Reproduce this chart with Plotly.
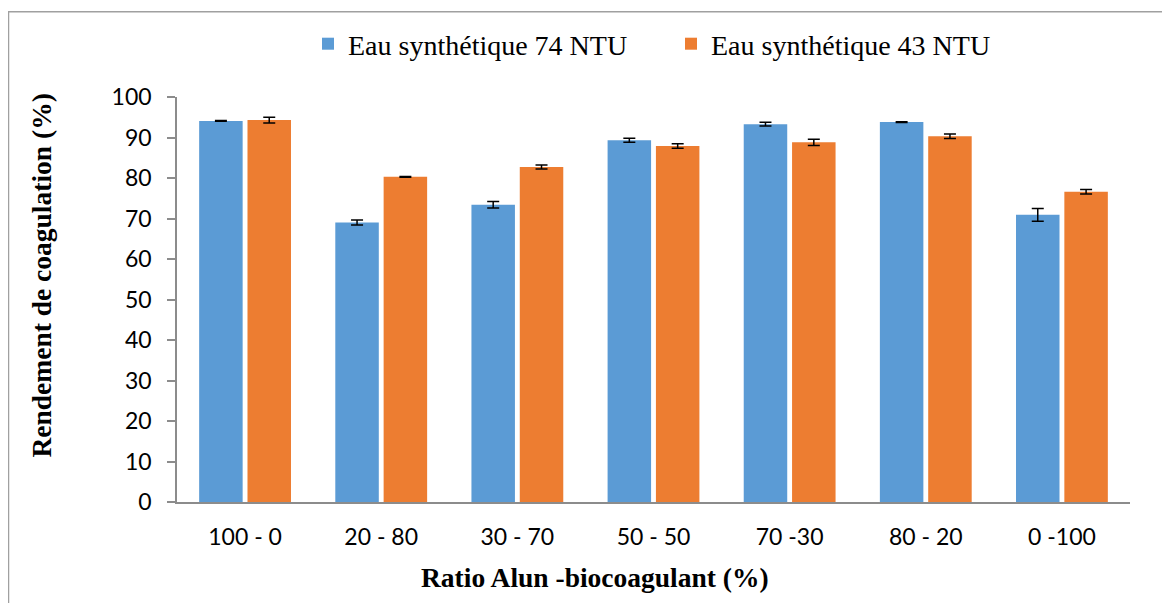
import plotly.graph_objects as go

categories = ["100 - 0", "20 - 80", "30 - 70", "50 - 50", "70 -30", "80 - 20", "0 -100"]
series_names = ["Eau synthétique 74 NTU", "Eau synthétique 43 NTU"]
values_74 = [94.1, 69.0, 73.4, 89.3, 93.3, 93.8, 70.9]
errors_74 = [0.1, 0.6, 0.8, 0.5, 0.45, 0.1, 1.55]
values_43 = [94.3, 80.3, 82.7, 87.9, 88.8, 90.3, 76.6]
errors_43 = [0.7, 0.1, 0.5, 0.55, 0.75, 0.55, 0.55]
y_ticks = [0, 10, 20, 30, 40, 50, 60, 70, 80, 90, 100]

# the page places the figure 8 px from the top-left corner of the window
OFF = 8
W, H = 1170 - OFF, 603 - OFF
# plot area wanted on screen: x 177..1130, y 96..502
L, R = 177 - OFF, 1170 - 1130
T, B = 96 - OFF, 603 - 502
pw, ph = W - L - R, H - T - B

def px_x(sx):
    return (sx - OFF - L) / pw

def px_y(sy):
    return (T + ph - (sy - OFF)) / ph

blue = "#5B9BD5"
orange = "#ED7D31"
axis_grey = "#8c8c8c"

fig = go.Figure()
for name, vals, errs, col in [
    (series_names[0], values_74, errors_74, blue),
    (series_names[1], values_43, errors_43, orange),
]:
    fig.add_trace(go.Bar(
        x=categories, y=vals, name=name,
        marker=dict(color=col, line=dict(width=0)),
        error_y=dict(type="data", array=errs, visible=True,
                     color="black", thickness=1.5, width=6),
    ))

fig.update_layout(
    width=W, height=H,
    margin=dict(l=L, r=R, t=T, b=B, pad=0),
    paper_bgcolor="white", plot_bgcolor="white",
    barmode="group", bargap=0.29, bargroupgap=0.1,
    showlegend=True,
    legend=dict(
        orientation="h", x=px_x(308), xanchor="left",
        y=px_y(44), yanchor="middle",
        font=dict(family="Liberation Serif", size=28, color="black"),
        entrywidth=318, entrywidthmode="pixels",
        bgcolor="rgba(0,0,0,0)", borderwidth=0,
    ),
    xaxis=dict(
        type="category", showgrid=False, zeroline=False,
        showline=True, linecolor=axis_grey, linewidth=1.5,
        ticks="", ticklabelstandoff=14,
        tickfont=dict(family="Lato", size=23, color="black"),
    ),
    yaxis=dict(
        range=[0, 100], tickvals=y_ticks, showgrid=False, zeroline=False,
        showline=True, linecolor=axis_grey, linewidth=1.5,
        ticks="outside", ticklen=8, tickcolor=axis_grey, tickwidth=1.5,
        ticklabelstandoff=11,
        tickfont=dict(family="Lato", size=23, color="black"),
    ),
    annotations=[
        dict(text="<b>Rendement de coagulation (%)</b>", textangle=-90,
             xref="paper", yref="paper", x=px_x(42), y=px_y(275),
             xanchor="center", yanchor="middle", showarrow=False,
             font=dict(family="Liberation Serif", size=27.5, color="black")),
        dict(text="<b>Ratio Alun -biocoagulant (%)</b>",
             xref="paper", yref="paper", x=px_x(595), y=px_y(578),
             xanchor="center", yanchor="middle", showarrow=False,
             font=dict(family="Liberation Serif", size=27.5, color="black")),
    ],
    shapes=[
        dict(type="rect", xref="paper", yref="paper",
             x0=px_x(8.5), y0=px_y(640), x1=px_x(1200), y1=px_y(10.5),
             line=dict(color="#a0a0a0", width=1.5), layer="below"),
    ],
)

fig.write_html("out.html")
